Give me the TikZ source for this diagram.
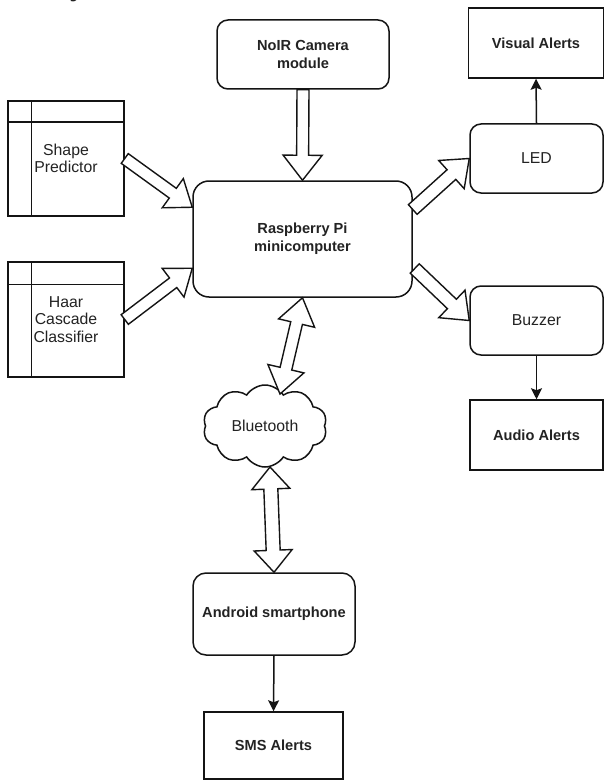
\documentclass[tikz,border=0pt]{standalone}
\usepackage{fontspec}
\setmainfont{Liberation Sans}
\newfontfamily\headfont{Liberation Serif}
\usetikzlibrary{calc,arrows.meta,shapes.symbols}
\definecolor{txt}{RGB}{35,35,35}
\definecolor{ln}{RGB}{20,20,20}

% single block arrow: from, to, shaft half width, head half width, head length
\newcommand{\blkarrow}[5]{%
  \coordinate (hbA) at ($(#2)!#5!(#1)$);
  \draw[blockarr] ($(#1)!#3!90:(#2)$) -- ($(hbA)!#3!90:(#2)$) -- ($(hbA)!#4!90:(#2)$) -- (#2)
    -- ($(hbA)!#4!-90:(#2)$) -- ($(hbA)!#3!-90:(#2)$) -- ($(#1)!#3!-90:(#2)$) -- cycle;}
% double block arrow
\newcommand{\dblarrow}[5]{%
  \coordinate (hbB) at ($(#2)!#5!(#1)$);
  \coordinate (hbC) at ($(#1)!#5!(#2)$);
  \draw[blockarr] (#1) -- ($(hbC)!#4!90:(#2)$) -- ($(hbC)!#3!90:(#2)$) -- ($(hbB)!#3!90:(#2)$)
    -- ($(hbB)!#4!90:(#2)$) -- (#2) -- ($(hbB)!#4!-90:(#2)$) -- ($(hbB)!#3!-90:(#2)$)
    -- ($(hbC)!#3!-90:(#2)$) -- ($(hbC)!#4!-90:(#2)$) -- cycle;}

\tikzset{
  box/.style={draw=ln, line width=1.5pt, fill=white, inner sep=0pt, align=center, text=txt},
  rbox/.style={box, rounded corners=11pt},
  regtxt/.style={font=\fontsize{15.8}{17.5}\selectfont},
  boldtxt/.style={font=\fontsize{14.6}{18}\selectfont\bfseries},
  blockarr/.style={draw=ln, line width=1.4pt, fill=white, line join=miter},
  thinarr/.style={draw=ln, line width=1.5pt, -{Stealth[length=11pt,width=11pt,inset=2pt]}},
}

\begin{document}
\begin{tikzpicture}[x=1pt,y=-1pt]
\useasboundingbox (0,0) rectangle (605,781);
\fill[white] (0,0) rectangle (605,781);

% cut-off heading at the very top (only its lowest edge shows)
\begin{scope}
  \clip (0,0) rectangle (605,781);
  \node[anchor=base west, inner sep=0pt, text=txt, font=\fontsize{34}{36}\headfont] (head) at (0,-5) {3.1 System Architecture};
\end{scope}

% nodes
\node[rbox, boldtxt, minimum width=172pt, minimum height=69pt] (cam) at (303,54.5) {NoIR Camera\\module};
\node[rbox, boldtxt, rounded corners=16pt, minimum width=219pt, minimum height=116pt] (rpi) at (302.5,239) {Raspberry Pi\\minicomputer};
\node[box, regtxt, minimum width=116pt, minimum height=115pt] (sp) at (66,158.5) {Shape\\Predictor};
\node[box, regtxt, minimum width=116pt, minimum height=115pt] (haar) at (66,319.5) {Haar\\Cascade\\Classifier};
\node[box, boldtxt, minimum width=135pt, minimum height=70pt] (vis) at (536,43) {Visual Alerts};
\node[rbox, regtxt, minimum width=133pt, minimum height=69pt] (led) at (536.5,158.5) {LED};
\node[rbox, regtxt, minimum width=133pt, minimum height=69pt] (buz) at (536.5,320.5) {Buzzer};
\node[box, boldtxt, minimum width=133pt, minimum height=70pt] (aud) at (536.5,435) {Audio Alerts};
\node[cloud, draw=ln, line width=1.5pt, cloud puffs=10, cloud puff arc=115, aspect=1.55,
      minimum width=124pt, minimum height=82pt, inner sep=0pt, text=txt, regtxt] (bt) at (265,426) {Bluetooth};
\node[rbox, boldtxt, rounded corners=13pt, minimum width=162pt, minimum height=82pt] (and) at (274,614) {Android smartphone};
\node[box, boldtxt, minimum width=139pt, minimum height=67pt] (sms) at (273.5,745.5) {SMS Alerts};

% storage-shape inner lines
\draw[ln, line width=1.5pt] ($(sp.north west)+(0,22)$) -- ($(sp.north east)+(0,22)$);
\draw[ln, line width=1.5pt] ($(sp.north west)+(24,0)$) -- ($(sp.south west)+(24,0)$);
\draw[ln, line width=1.5pt] ($(haar.north west)+(0,23)$) -- ($(haar.north east)+(0,23)$);
\draw[ln, line width=1.5pt] ($(haar.north west)+(24,0)$) -- ($(haar.south west)+(24,0)$);

% connection points
\coordinate (rpiA) at ($(rpi.north west)+(0,27)$);
\coordinate (rpiB) at ($(rpi.north west)+(0,88)$);
\coordinate (rpiC) at ($(rpi.east)+(0,-29.5)$);
\coordinate (rpiD) at ($(rpi.east)+(2,29.5)$);
\coordinate (btT) at ($(bt.center)+(15,-32)$);
\coordinate (btB) at ($(bt.center)+(5,41)$);

% block arrows
\blkarrow{cam.south}{rpi.north}{6pt}{19.5pt}{25pt}
\blkarrow{sp.east}{rpiA}{6pt}{18pt}{24pt}
\blkarrow{haar.east}{rpiB}{6pt}{18pt}{24pt}
\blkarrow{rpiC}{led.west}{6.5pt}{19pt}{24pt}
\blkarrow{rpiD}{buz.west}{6.5pt}{19pt}{24pt}
\dblarrow{rpi.south}{btT}{6pt}{18.5pt}{26pt}
\dblarrow{btB}{and.north}{7pt}{19pt}{22pt}

% thin arrows
\draw[thinarr] (led.north) -- (vis.south);
\draw[thinarr] (buz.south) -- (aud.north);
\draw[thinarr] (and.south) -- (sms.north);
\end{tikzpicture}
\end{document}
